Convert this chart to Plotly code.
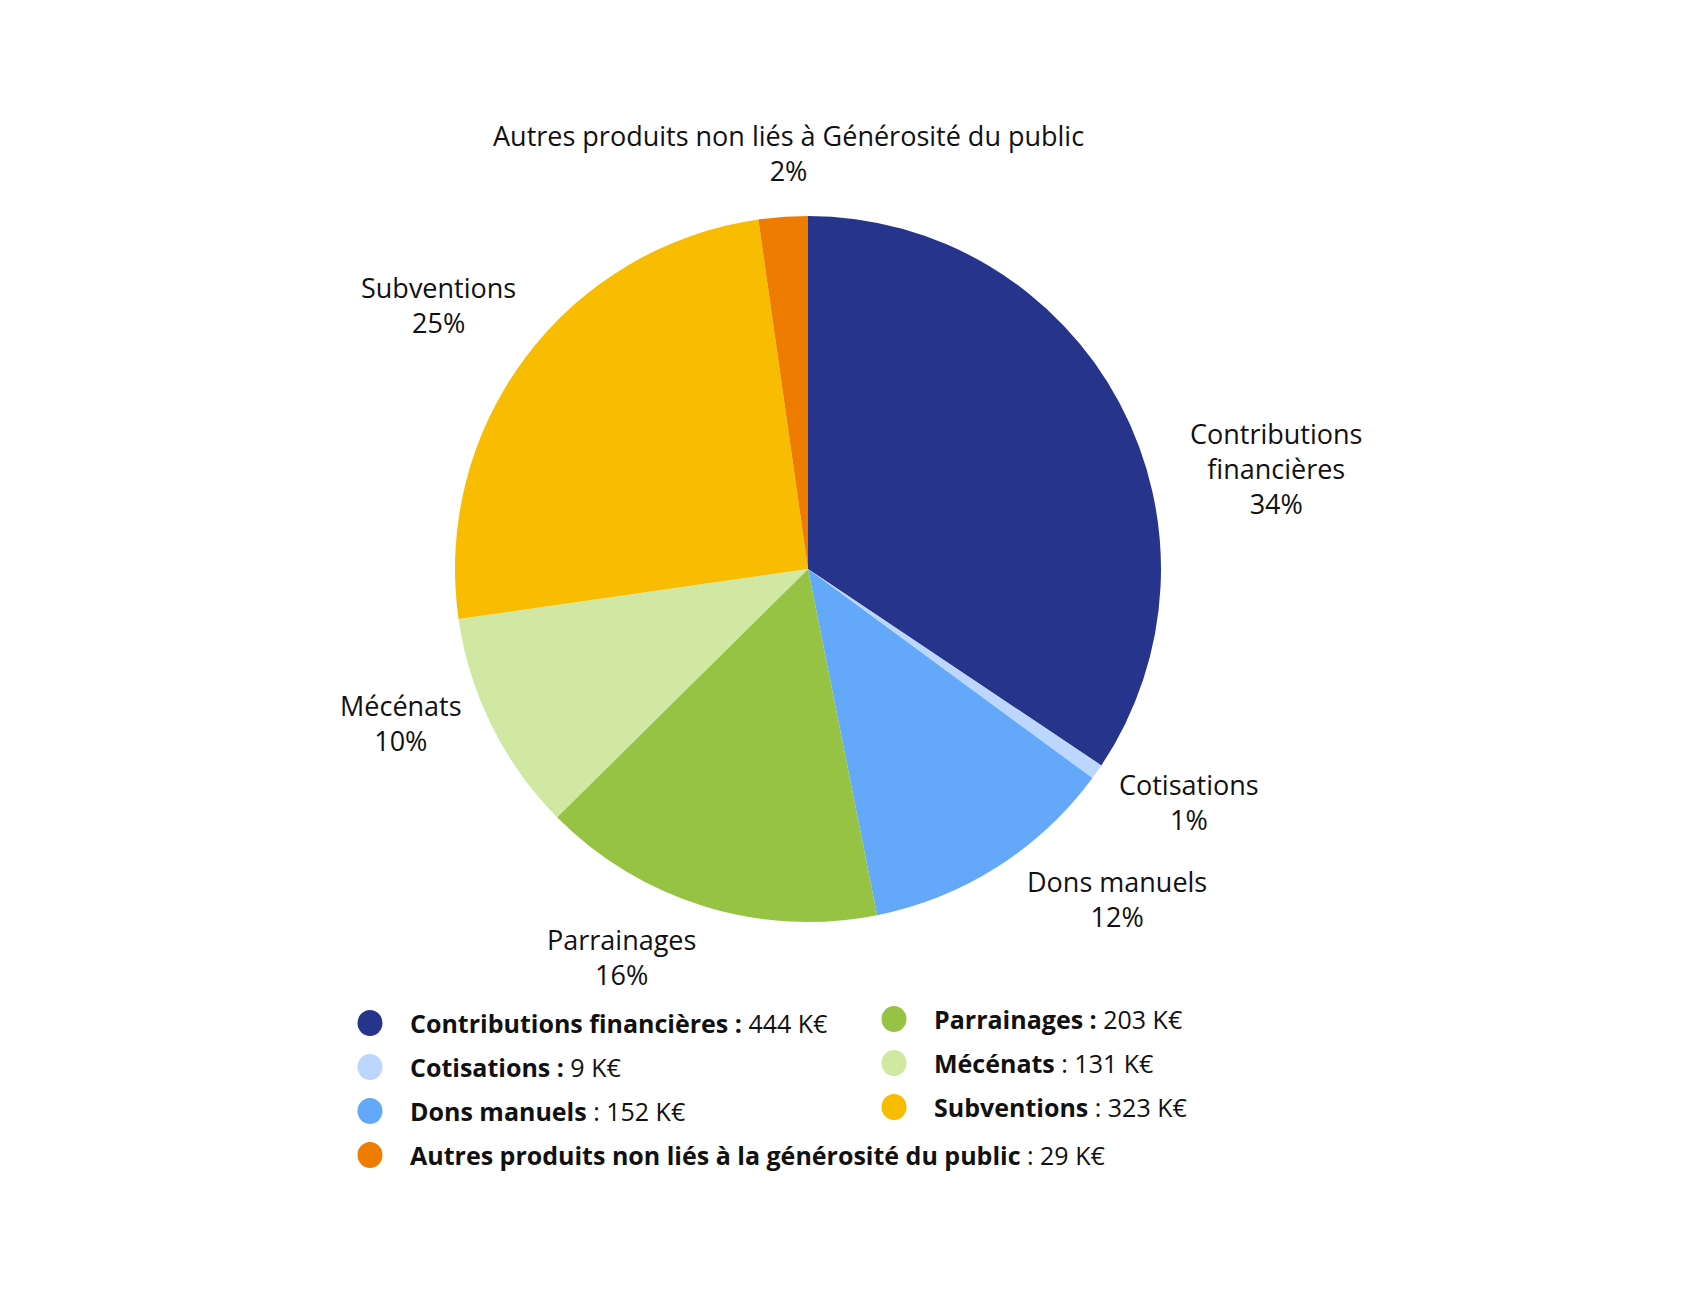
import plotly.graph_objects as go

# ---- data ----
labels = ["Contributions financières", "Cotisations", "Dons manuels", "Parrainages",
          "Mécénats", "Subventions", "Autres produits non liés à Générosité du public"]
values = [444, 9, 152, 203, 131, 323, 29]
legend_names = ["Contributions financières", "Cotisations", "Dons manuels", "Parrainages",
                "Mécénats", "Subventions", "Autres produits non liés à la générosité du public"]
bold_colon = [True, True, False, True, False, False, False]
colors = ["#27348B", "#BCD6FE", "#64A8FA", "#97C344", "#D0E8A2", "#F8BD00", "#EE7C00"]

W, H = 1700, 1300
OFF = 8  # page body margin compensation
FONT = "Open Sans"
TXT = "#111111"


def px_x(x):
    return (x - OFF) / W


def px_y(y):
    return 1 - (y - OFF) / H


# pie geometry (page pixels)
cx, cy, R = 808, 569, 353

fig = go.Figure(go.Pie(
    labels=labels, values=values, sort=False, direction="clockwise", rotation=0,
    marker=dict(colors=colors, line=dict(width=0)),
    textinfo="none", showlegend=False,
    domain=dict(x=[px_x(cx - R), px_x(cx + R)], y=[px_y(cy + R), px_y(cy - R)]),
))

total = sum(values)
# outside label placement (page pixels, layout only)
label_display = ["Contributions<br>financières", "Cotisations", "Dons manuels", "Parrainages",
                 "Mécénats", "Subventions", "Autres produits non liés à Générosité du public"]
label_pos = [(1276, 468), (1189, 802), (1117, 899), (621, 957), (401, 723), (438, 305), (788, 153)]

annotations = []
for name, v, (px, py) in zip(label_display, values, label_pos):
    pct = round(100 * v / total)
    annotations.append(dict(
        x=px_x(px), y=px_y(py), xref="paper", yref="paper",
        text=f"{name}<br>{pct}%", showarrow=False, xanchor="center", yanchor="middle",
        align="center", font=dict(family=FONT, size=27, color=TXT)))

# custom two-column legend
legend_cols = [[0, 1, 2, 6], [3, 4, 5]]
col_x = [370, 894]
col_y0 = [1023, 1019]
row_step = 44
shapes = []
for ci, col in enumerate(legend_cols):
    for ri, idx in enumerate(col):
        mx = col_x[ci]
        my = col_y0[ci] + ri * row_step
        shapes.append(dict(type="circle", xref="paper", yref="paper",
                           x0=px_x(mx - 12.5), x1=px_x(mx + 12.5),
                           y0=px_y(my + 13), y1=px_y(my - 13),
                           fillcolor=colors[idx], line=dict(width=0)))
        if bold_colon[idx]:
            txt = f"<b>{legend_names[idx]} :</b> {values[idx]} K€"
        else:
            txt = f"<b>{legend_names[idx]}</b> : {values[idx]} K€"
        annotations.append(dict(
            x=px_x(mx + 38), y=px_y(my), xref="paper", yref="paper",
            text=txt, showarrow=False, xanchor="left", yanchor="middle",
            font=dict(family=FONT, size=25, color=TXT)))

fig.update_layout(
    width=W, height=H, margin=dict(l=0, r=0, t=0, b=0),
    paper_bgcolor="white", plot_bgcolor="white",
    font=dict(family=FONT, color=TXT),
    annotations=annotations, shapes=shapes,
)

fig.write_html("out.html")
